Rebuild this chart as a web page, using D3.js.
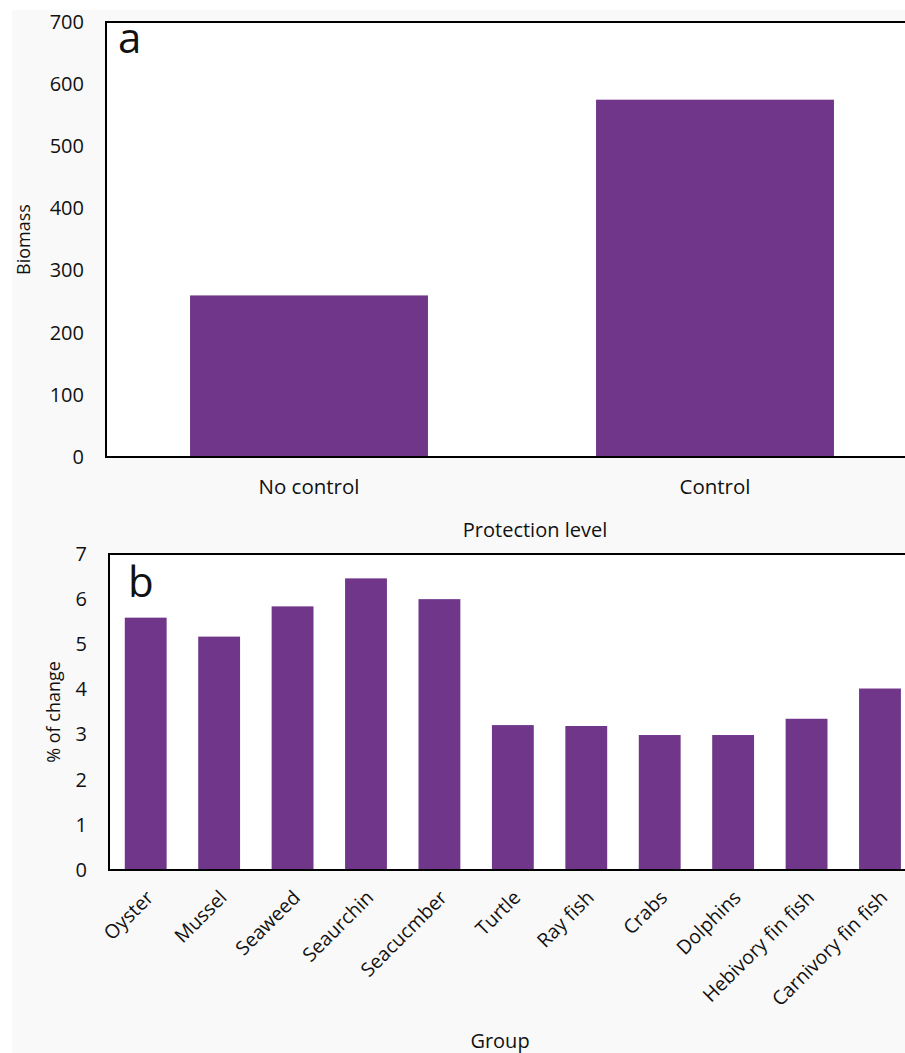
<!DOCTYPE html>
<html>
<head>
<meta charset="utf-8">
<script src="https://cdn.jsdelivr.net/npm/d3@7"></script>
<style>
  html, body { margin: 0; padding: 0; background: #ffffff; }
  svg { display: block; font-family: "Open Sans", "Noto Sans", sans-serif; }
</style>
</head>
<body>
<svg id="fig" width="905" height="1053"></svg>
<script>
// Panel a: biomass by protection level
const protectionLevels = ["No control", "Control"];
const biomassValues = [260, 575];
const biomassTicks = [0, 100, 200, 300, 400, 500, 600, 700];

// Panel b: % of change by group
const groups = ["Oyster", "Mussel", "Seaweed", "Seaurchin", "Seacucmber", "Turtle",
                "Ray fish", "Crabs", "Dolphins", "Hebivory fin fish", "Carnivory fin fish"];
const changeValues = [5.59, 5.17, 5.84, 6.46, 6.0, 3.21, 3.19, 2.99, 2.99, 3.35, 4.02];
const changeTicks = [0, 1, 2, 3, 4, 5, 6, 7];

const BAR = "#70368a";
const svg = d3.select("#fig");

// page background
svg.append("rect").attr("x", 0).attr("y", 0).attr("width", 905).attr("height", 1053).attr("fill", "#ffffff");
svg.append("rect").attr("x", 12).attr("y", 10).attr("width", 893).attr("height", 1043).attr("fill", "#f9f9f9");

function panel(opts) {
  const { cats, vals, ticks, x0, x1, yTop, yBot, yMax, pad, letter, letterX, letterY,
          yTitle, yTitleX, xTitle, xTitleX, xTitleY, rotated, tickFont, catFont } = opts;
  const g = svg.append("g");
  const x = d3.scaleBand().domain(cats).range([x0, x1]).paddingInner(pad).paddingOuter(pad / 2);
  const y = d3.scaleLinear().domain([0, yMax]).range([yBot, yTop]);

  // plot area
  g.append("rect").attr("x", x0).attr("y", yTop).attr("width", 960 - x0).attr("height", yBot - yTop)
    .attr("fill", "#ffffff");

  g.selectAll("rect.bar").data(cats).join("rect").attr("class", "bar")
    .attr("x", d => x(d)).attr("width", x.bandwidth())
    .attr("y", (d, i) => y(vals[i])).attr("height", (d, i) => yBot - y(vals[i]))
    .attr("fill", BAR);

  // frame
  g.append("rect").attr("x", x0).attr("y", yTop).attr("width", 960 - x0).attr("height", yBot - yTop)
    .attr("fill", "none").attr("stroke", "#000").attr("stroke-width", 2);

  const ya = g.append("g").attr("transform", `translate(${x0},0)`)
    .call(d3.axisLeft(y).tickValues(ticks).tickFormat(d3.format("d")).tickSize(0).tickPadding(22))
    .attr("font-family", null).attr("font-size", null);
  ya.select(".domain").remove();
  ya.selectAll("text").attr("font-size", tickFont).attr("fill", "#111");

  const xa = g.append("g").attr("transform", `translate(0,${yBot})`)
    .call(d3.axisBottom(x).tickSize(0).tickPadding(22))
    .attr("font-family", null).attr("font-size", null);
  xa.select(".domain").remove();
  xa.selectAll("text").attr("font-size", catFont).attr("fill", "#111");
  if (rotated) {
    xa.selectAll("text")
      .attr("text-anchor", "end")
      .attr("y", 0).attr("dy", "0.35em")
      .attr("transform", "translate(4,24) rotate(-45)");
  }

  g.append("text").attr("x", letterX).attr("y", letterY).attr("font-size", 42).attr("fill", "#111")
    .text(letter);

  g.append("text").attr("transform", `translate(${yTitleX},${(yTop + yBot) / 2}) rotate(-90)`)
    .attr("text-anchor", "middle").attr("font-size", 18).attr("fill", "#111").text(yTitle);

  g.append("text").attr("x", xTitleX).attr("y", xTitleY).attr("text-anchor", "middle")
    .attr("font-size", 20).attr("fill", "#111").text(xTitle);
}

panel({
  cats: protectionLevels, vals: biomassValues, ticks: biomassTicks,
  x0: 106, x1: 918, yTop: 22, yBot: 457, yMax: 700, pad: 0.414,
  letter: "a", letterX: 118, letterY: 53,
  yTitle: "Biomass", yTitleX: 30,
  xTitle: "Protection level", xTitleX: 535, xTitleY: 537,
  rotated: false, tickFont: 20, catFont: 20.5
});

panel({
  cats: groups, vals: changeValues, ticks: changeTicks,
  x0: 109, x1: 916.7, yTop: 554, yBot: 870, yMax: 7, pad: 0.43,
  letter: "b", letterX: 128, letterY: 597,
  yTitle: "% of change", yTitleX: 60,
  xTitle: "Group", xTitleX: 500, xTitleY: 1048,
  rotated: true, tickFont: 20, catFont: 19.5
});
</script>
</body>
</html>
